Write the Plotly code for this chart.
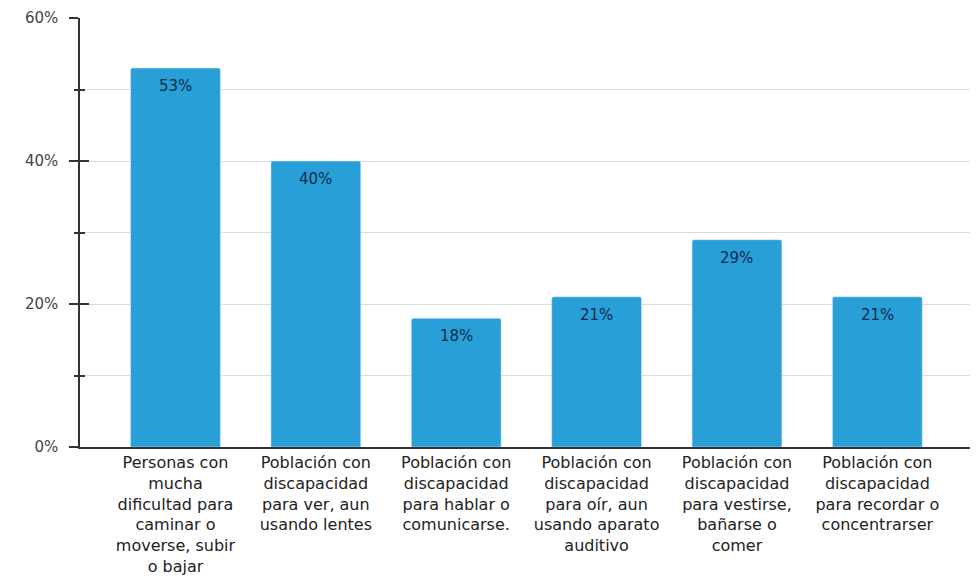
import plotly.graph_objects as go

categories = [
    "Personas con<br>mucha<br>dificultad para<br>caminar o<br>moverse, subir<br>o bajar",
    "Población con<br>discapacidad<br>para ver, aun<br>usando lentes",
    "Población con<br>discapacidad<br>para hablar o<br>comunicarse.",
    "Población con<br>discapacidad<br>para oír, aun<br>usando aparato<br>auditivo",
    "Población con<br>discapacidad<br>para vestirse,<br>bañarse o<br>comer",
    "Población con<br>discapacidad<br>para recordar o<br>concentrarser",
]
values = [53, 40, 18, 21, 29, 21]
y_tickvals = [0, 20, 40, 60]
y_ticktext = ["0%", "20%", "40%", "60%"]

BAR_COLOR = "#299fd8"
AXIS_COLOR = "#333333"
FONT = "DejaVu Sans, Arial, sans-serif"

idx = list(range(len(categories)))

fig = go.Figure()
fig.add_trace(go.Bar(
    x=idx, y=values, marker_color=BAR_COLOR, width=0.64,
    hoverinfo="skip", showlegend=False,
))
# transparent copies on the overlay axes, so their inner tick marks get drawn
for ax in ("y2", "y3"):
    fig.add_trace(go.Scatter(
        x=idx, y=values, yaxis=ax, mode="markers",
        marker=dict(opacity=0), showlegend=False, hoverinfo="skip",
    ))

for i, v in zip(idx, values):
    fig.add_annotation(
        x=i, y=v, text=f"{v}%", showarrow=False, yanchor="top", yshift=-7,
        font=dict(family=FONT, size=15, color="#0c2a4a"),
    )

fig.update_layout(
    width=976, height=583,
    margin=dict(l=80, r=6, t=18, b=136),
    paper_bgcolor="white", plot_bgcolor="white",
    barcornerradius=2,
    font=dict(family=FONT),
    xaxis=dict(
        range=[-0.68, 5.66],
        tickvals=idx, ticktext=categories,
        tickfont=dict(family=FONT, size=16, color="#222222"),
        showline=True, linecolor=AXIS_COLOR, linewidth=1.5,
        showgrid=False, zeroline=False, ticks="",
    ),
    yaxis=dict(
        range=[0, 60],
        tickvals=y_tickvals, ticktext=y_ticktext,
        tickfont=dict(family=FONT, size=15, color="#444444"),
        showline=True, linecolor=AXIS_COLOR, linewidth=1.5,
        ticks="outside", ticklen=9, tickwidth=1.5, tickcolor=AXIS_COLOR,
        ticklabelstandoff=8,
        showgrid=True, gridcolor="#dcdcdc", gridwidth=1,
        zeroline=False,
        minor=dict(dtick=10, ticks="outside", ticklen=4, tickwidth=1.5,
                   tickcolor=AXIS_COLOR, showgrid=True, gridcolor="#dcdcdc"),
    ),
    # inner halves of the major (y2) and minor (y3) tick marks
    yaxis2=dict(
        overlaying="y", range=[0, 60], side="left",
        tickmode="linear", tick0=0, dtick=20, showticklabels=False,
        ticks="inside", ticklen=9, tickwidth=1.5, tickcolor=AXIS_COLOR,
        showgrid=False, zeroline=False, showline=False,
    ),
    yaxis3=dict(
        overlaying="y", range=[0, 60], side="left",
        tickmode="linear", tick0=10, dtick=20, showticklabels=False,
        ticks="inside", ticklen=5, tickwidth=1.5, tickcolor=AXIS_COLOR,
        showgrid=False, zeroline=False, showline=False,
    ),
)

fig.write_html("out.html")
